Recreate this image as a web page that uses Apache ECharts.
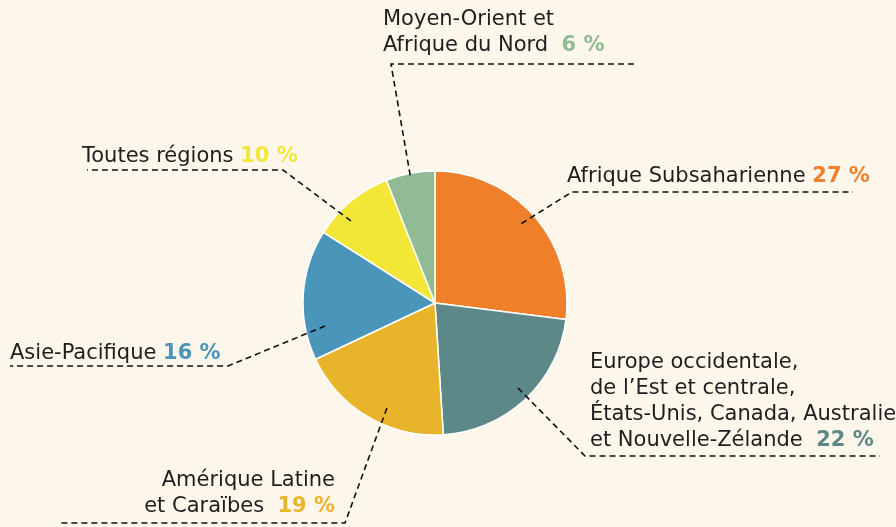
<!DOCTYPE html>
<html>
<head>
<meta charset="utf-8">
<script src="https://cdn.jsdelivr.net/npm/echarts@6/dist/echarts.min.js"></script>
<style>
  html, body { margin: 0; background: #fdf6ea; }
  #chart { width: 896px; height: 527px; }
</style>
</head>
<body>
<div id="chart"></div>
<script>
// données
const regions = [
  "Afrique Subsaharienne",
  "Europe occidentale, de l’Est et centrale, États-Unis, Canada, Australie et Nouvelle-Zélande",
  "Amérique Latine et Caraïbes",
  "Asie-Pacifique",
  "Toutes régions",
  "Moyen-Orient et Afrique du Nord"
];
const labelTexts = [
  "Afrique Subsaharienne ",
  "Europe occidentale,\nde l’Est et centrale,\nÉtats-Unis, Canada, Australie\net Nouvelle-Zélande  ",
  "Amérique Latine\net Caraïbes  ",
  "Asie-Pacifique ",
  "Toutes régions ",
  "Moyen-Orient et\nAfrique du Nord  "
];
const shares = [27, 22, 19, 16, 10, 6];

const colors = ["#ef7f29", "#5c8887", "#e8b52a", "#4a95ba", "#f2e637", "#92ba94"];

// placement des étiquettes : départ (angle, fraction du rayon), coude, fin du soulignement, texte
const CX = 435, CY = 303, R = 132;
const layouts = [
  { a: 47.4,  rf: 0.89,  elbow: [572, 192], endX: 853, tx: 567, ty: 190, align: "left" },
  { a: 135.7, rf: 0.90,  elbow: [585, 456], endX: 880, tx: 590, ty: 454, align: "left" },
  { a: 204.6, rf: 0.875, elbow: [345, 523], endX: 60,  tx: 335, ty: 520, align: "right" },
  { a: 258.2, rf: 0.85,  elbow: [228, 366], endX: 10,  tx: 10,  ty: 367, align: "left" },
  { a: 314.3, rf: 0.89,  elbow: [283, 170], endX: 87,  tx: 82,  ty: 170, align: "left" },
  { a: 349,   rf: 0.985, elbow: [391, 64],  endX: 636, tx: 383, ty: 59,  align: "left" }
];

function startPoint(l) {
  const t = l.a * Math.PI / 180;
  return [CX + R * l.rf * Math.sin(t), CY - R * l.rf * Math.cos(t)];
}

const FONT = "DejaVu Sans";
const chart = echarts.init(document.getElementById("chart"));

const pieBase = {
  type: "pie",
  center: [CX, CY],
  radius: [0, R],
  startAngle: 90,
  clockwise: true,
  emphasis: { disabled: true },
  silent: true
};

// secteurs
const sliceData = regions.map((name, i) => ({
  name,
  value: shares[i],
  itemStyle: { color: colors[i] }
}));

// étiquettes + traits pointillés (série transparente au-dessus des secteurs)
const labelData = regions.map((name, i) => ({
  name,
  value: shares[i],
  label: {
    formatter: labelTexts[i] + "{p|" + shares[i] + " %}",
    rich: { p: { color: colors[i], fontWeight: 600, fontSize: 21, fontFamily: FONT, lineHeight: 26 } }
  }
}));

chart.setOption({
  backgroundColor: "#fdf6ea",
  animation: false,
  series: [
    Object.assign({}, pieBase, {
      z: 2,
      itemStyle: { borderColor: "#ffffff", borderWidth: 1.5 },
      label: { show: false },
      labelLine: { show: false },
      data: sliceData
    }),
    Object.assign({}, pieBase, {
      z: 3,
      itemStyle: { color: "transparent", borderWidth: 0 },
      label: {
        show: true,
        position: "outside",
        color: "#1e1e1e",
        fontSize: 21,
        fontFamily: FONT,
        lineHeight: 26
      },
      labelLine: {
        show: true,
        lineStyle: { color: "#111111", width: 1.6, type: [6, 4] }
      },
      labelLayout: function (params) {
        const l = layouts[params.dataIndex];
        return {
          x: l.tx,
          y: l.ty,
          align: l.align,
          verticalAlign: "bottom",
          labelLinePoints: [startPoint(l), l.elbow, [l.endX, l.elbow[1]]]
        };
      },
      data: labelData
    })
  ]
});
</script>
</body>
</html>
